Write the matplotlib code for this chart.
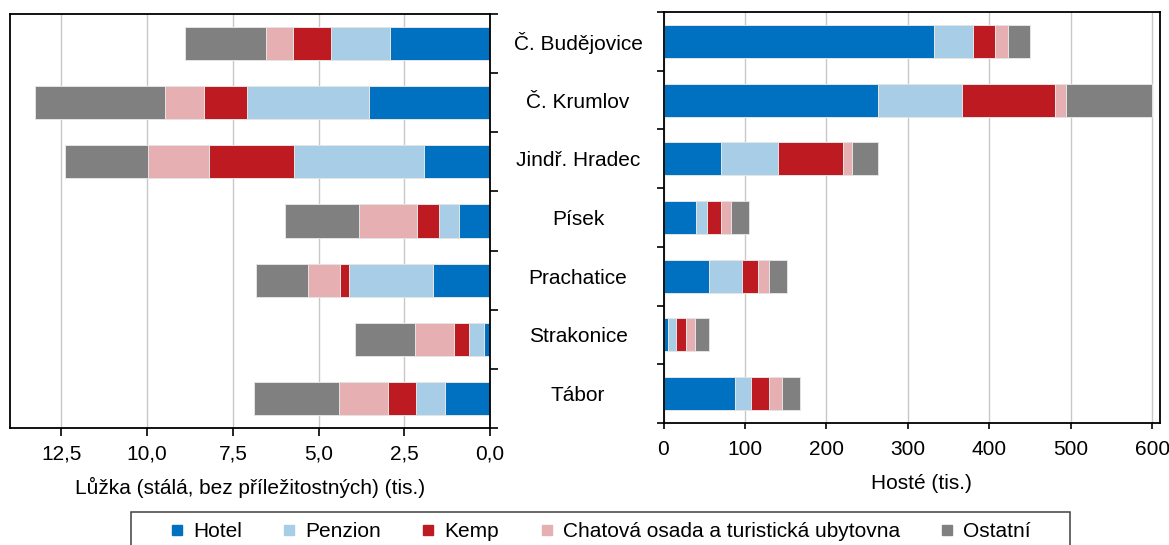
import numpy as np
import matplotlib
matplotlib.use("Agg")
import matplotlib.pyplot as plt
from matplotlib.lines import Line2D
from matplotlib.patches import Rectangle

plt.rcParams['font.family'] = ['Liberation Sans', 'DejaVu Sans']

# ---------------- data ----------------
categories = ["Č. Budějovice", "Č. Krumlov", "Jindř. Hradec", "Písek",
              "Prachatice", "Strakonice", "Tábor"]
series_names = ["Hotel", "Penzion", "Kemp",
                "Chatová osada a turistická ubytovna", "Ostatní"]
colors = ["#0070C0", "#A7CDE7", "#BE1A22", "#E6AFB2", "#808080"]

# Lůžka (tis.)
beds_hotel = [2.92, 3.54, 1.92, 0.89, 1.65, 0.18, 1.31]
beds_penzion = [1.73, 3.55, 3.79, 0.60, 2.45, 0.42, 0.84]
beds_kemp = [1.10, 1.25, 2.50, 0.63, 0.27, 0.46, 0.82]
beds_chat = [0.77, 1.14, 1.77, 1.71, 0.95, 1.14, 1.42]
beds_ostatni = [2.39, 3.78, 2.43, 2.16, 1.50, 1.73, 2.48]

# Hosté (tis.)
guests_hotel = [332, 263, 70, 40, 56, 6, 88]
guests_penzion = [48.5, 103, 71, 13, 40, 9, 20]
guests_kemp = [26.5, 115, 79, 17, 20, 13, 21]
guests_chat = [15.5, 13, 12, 13, 14, 11, 16]
guests_ostatni = [27.5, 105.5, 31.5, 22, 21, 16.5, 23]

left_ticks = [12.5, 10.0, 7.5, 5.0, 2.5, 0.0]
left_ticklabels = ["12,5", "10,0", "7,5", "5,0", "2,5", "0,0"]
right_ticks = [0, 100, 200, 300, 400, 500, 600]
right_ticklabels = ["0", "100", "200", "300", "400", "500", "600"]

left_xlabel = "Lůžka (stálá, bez příležitostných) (tis.)"
right_xlabel = "Hosté (tis.)"

beds = [beds_hotel, beds_penzion, beds_kemp, beds_chat, beds_ostatni]
guests = [guests_hotel, guests_penzion, guests_kemp, guests_chat, guests_ostatni]

# ---------------- figure ----------------
W, H = 1169, 545
fig = plt.figure(figsize=(W / 100, H / 100), dpi=100)

def px_axes(x0, y0, x1, y1):
    return fig.add_axes([x0 / W, 1 - y1 / H, (x1 - x0) / W, (y1 - y0) / H])

axL = px_axes(10, 14, 490, 428)
axR = px_axes(663.5, 12, 1160, 423)

FS = 15
y = np.arange(len(categories))
bar_h = 0.56
edge_kw = dict(edgecolor="#e4e4e4", linewidth=0.7)

for ax, data in ((axL, beds), (axR, guests)):
    left = np.zeros(len(categories))
    for vals, col, name in zip(data, colors, series_names):
        vals = np.asarray(vals, dtype=float)
        ax.barh(y, vals, left=left, height=bar_h, color=col, label=name,
                zorder=3, **edge_kw)
        left += vals
    ax.set_ylim(len(categories) - 0.5, -0.5)
    ax.set_yticks(np.arange(-0.5, len(categories), 1.0))
    ax.set_yticklabels([])
    ax.grid(axis="x", color="#c8c8c8", linewidth=1.0, zorder=0)
    ax.set_axisbelow(True)
    for sp in ax.spines.values():
        sp.set_linewidth(1.3)
        sp.set_color("black")
        sp.set_zorder(5)

# left panel
axL.set_xlim(14.0, 0.0)
axL.set_xticks(left_ticks)
axL.set_xticklabels(left_ticklabels, fontsize=FS)
axL.tick_params(axis="x", direction="out", length=5.5, width=1.2, pad=6.5)
axL.yaxis.tick_right()
axL.tick_params(axis="y", which="major", direction="out", length=6, width=1.2,
                right=True, left=False, labelright=False, labelleft=False)
axL.set_xlabel(left_xlabel, fontsize=FS)
axL.xaxis.label.set_va("center")
axL.xaxis.set_label_coords(0.5, -0.1425)

# right panel
axR.set_xlim(0, 609.5)
axR.set_xticks(right_ticks)
axR.set_xticklabels(right_ticklabels, fontsize=FS)
axR.tick_params(axis="x", direction="out", length=4.5, width=1.2, pad=8)
axR.tick_params(axis="y", which="major", direction="out", length=5, width=1.2,
                left=True, right=False)
axR.set_yticks(y, minor=True)
axR.set_yticklabels(categories, minor=True, fontsize=FS)
axR.tick_params(axis="y", which="minor", length=0, pad=61.5)
for lbl in axR.get_yticklabels(minor=True):
    lbl.set_horizontalalignment("center")
axR.set_xlabel(right_xlabel, fontsize=FS)
axR.xaxis.label.set_va("center")
axR.xaxis.set_label_coords(0.52, -0.148)

# legend
handles = [Line2D([], [], linestyle="none", marker="s", markersize=7.4,
                  markerfacecolor=c, markeredgecolor=c) for c in colors]
fig.legend(handles, series_names, loc="center left",
           bbox_to_anchor=(171 / W, 1 - 531.5 / H), frameon=False,
           ncol=5, fontsize=FS, borderpad=0, borderaxespad=0,
           handlelength=0.55, handletextpad=0.5, columnspacing=2.0)
fig.patches.append(Rectangle((131 / W, 1 - 556 / H), (1070 - 131) / W, (556 - 512) / H,
                             transform=fig.transFigure, fill=False,
                             edgecolor="#404040", linewidth=1.1))

fig.savefig("out.png", dpi=100)
